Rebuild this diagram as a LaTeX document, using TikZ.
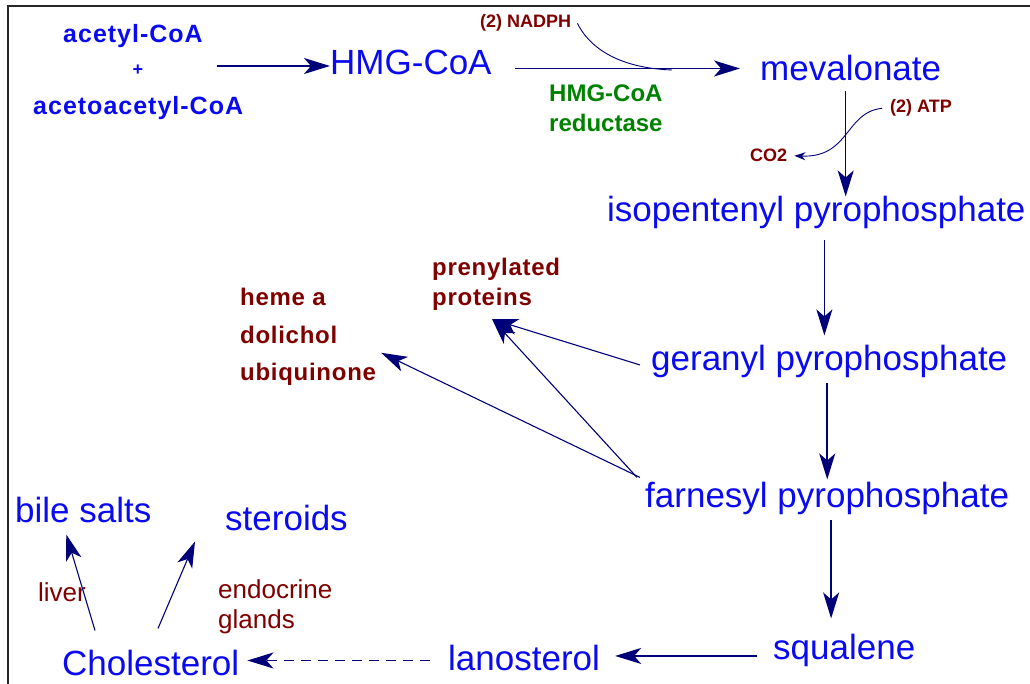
\documentclass[tikz,border=0pt]{standalone}
\usepackage{fontspec}
\setmainfont{Liberation Sans}
\usetikzlibrary{arrows.meta}

\definecolor{chemblue}{RGB}{10,10,240}
\definecolor{linenavy}{RGB}{0,0,120}
\definecolor{sitered}{RGB}{128,0,0}
\definecolor{enzgreen}{RGB}{0,130,0}

\tikzset{
  big/.style={text=chemblue, font=\fontsize{35}{40}\selectfont, inner sep=0pt, anchor=base west},
  small/.style={text=chemblue, font=\bfseries\fontsize{25}{28}\selectfont\addfontfeature{LetterSpace=4}, inner sep=0pt, anchor=base west},
  prod/.style={text=sitered, font=\bfseries\fontsize{24}{28}\selectfont\addfontfeature{LetterSpace=3}, inner sep=0pt, anchor=base west},
  tissue/.style={text=sitered, font=\fontsize{26}{30}\selectfont, inner sep=0pt, anchor=base west},
  cofac/.style={text=sitered, font=\bfseries\fontsize{18}{20}\selectfont, inner sep=0pt, anchor=base west},
  enz/.style={text=enzgreen, font=\bfseries\fontsize{24}{28}\selectfont, inner sep=0pt, anchor=base west},
  arr/.style={draw=linenavy, line width=1.6pt, -{Stealth[length=26pt,width=16pt,inset=7pt]}},
  cofline/.style={draw=linenavy, line width=0.9pt}
}

\begin{document}
\begin{tikzpicture}[x=1pt,y=-1pt]
\useasboundingbox (0,0) rectangle (1030,684);
\draw[line width=1.5pt, black!85] (8,684) -- (8,6) -- (1030,6);

% main pathway
\node[small] (acoa) at (63,43) {acetyl-CoA};
\node[small, anchor=center, font=\bfseries\fontsize{18}{20}\selectfont] (plus) at (138,70) {+};
\node[small] (aacoa) at (33,115) {acetoacetyl-CoA};
\node[big] (hmg) at (330,75) {HMG-CoA};
\node[big] (mev) at (760,81) {mevalonate};
\node[big] (ipp) at (607,222) {isopentenyl pyrophosphate};
\node[big] (gpp) at (651,370) {geranyl pyrophosphate};
\node[big] (fpp) at (645,507) {farnesyl pyrophosphate};
\node[big] (squal) at (773,659) {squalene};
\node[big] (lano) at (448,670) {lanosterol};
\node[big] (chol) at (62,675) {Cholesterol};
\node[big] (bile) at (15,522) {bile salts};
\node[big] (ster) at (225,530) {steroids};

% cofactors and enzyme
\node[cofac] (nadph) at (480,28) {(2) NADPH};
\node[cofac] (atp) at (890,113) {(2) ATP};
\node[cofac] (co2) at (750,162) {CO2};
\node[enz] (hmgr1) at (549,102) {HMG-CoA};
\node[enz] (hmgr2) at (549,132) {reductase};

% side products
\node[prod] (pren1) at (432,276) {prenylated};
\node[prod] (pren2) at (432,306) {proteins};
\node[prod] (heme1) at (240,306) {heme a};
\node[prod] (heme2) at (240,344) {dolichol};
\node[prod] (heme3) at (240,380) {ubiquinone};
\node[tissue] (liver) at (38,601) {liver};
\node[tissue] (endo1) at (218,598) {endocrine};
\node[tissue] (endo2) at (218,628) {glands};

\coordinate (r0) at (217,66);
\coordinate (n1) at (672,70);

\draw[arr] (r0) -- (r0 -| hmg.west);
\draw[arr, shorten <=23pt, shorten >=20pt] (mev.west -| hmg.east) -- (mev.west);
\draw[cofline] ([xshift=6pt]nadph.east) .. controls (588,45) and (615,68) .. (n1);

\draw[arr, shorten <=9pt] ([xshift=-5pt]mev.south) -- ([xshift=-5pt]mev.south |- ipp.north);
\draw[cofline, -{Stealth[length=11pt,width=8pt]}] ([xshift=-8pt]atp.west) .. controls (845,112) and (850,158) .. ([xshift=7pt]co2.east);

\draw[arr, shorten <=11pt, shorten >=9pt] ([xshift=8pt]ipp.south) -- ([xshift=8pt]ipp.south |- gpp.north);
\draw[arr, shorten <=6pt, shorten >=2pt] ([xshift=-2pt]gpp.south) -- ([xshift=-2pt]gpp.south |- fpp.north);
\draw[arr, shorten <=6pt, shorten >=15pt] ([xshift=4pt]fpp.south) -- ([xshift=4pt]fpp.south |- squal.north);
\draw[arr, shorten <=16pt, shorten >=15pt] ([yshift=-6pt]squal.west) -- ([yshift=-6pt]squal.west -| lano.east);
\draw[arr, dash pattern=on 10pt off 7pt, shorten <=18pt, shorten >=8pt] ([yshift=-3pt]lano.west) -- ([yshift=-3pt]lano.west -| chol.east);

% branches
\draw[arr, line width=1.1pt] ([shift={(-11,4)}]gpp.west) -- ([shift={(10,8)}]pren2.south);
\draw[arr, line width=1.1pt] ([shift={(-8,-4)}]fpp.north west) -- ([shift={(10,8)}]pren2.south);
\draw[arr, line width=1.1pt] ([shift={(-5,-4)}]fpp.north west) -- ([shift={(5,-21)}]heme3.east);
\draw[arr, line width=1.1pt] ([shift={(33,-19)}]chol.north west) -- ([shift={(-17,12)}]bile.south);
\draw[arr, line width=1.1pt] ([shift={(96,-21)}]chol.north west) -- ([shift={(-30,11)}]ster.south west);

\end{tikzpicture}
\end{document}
